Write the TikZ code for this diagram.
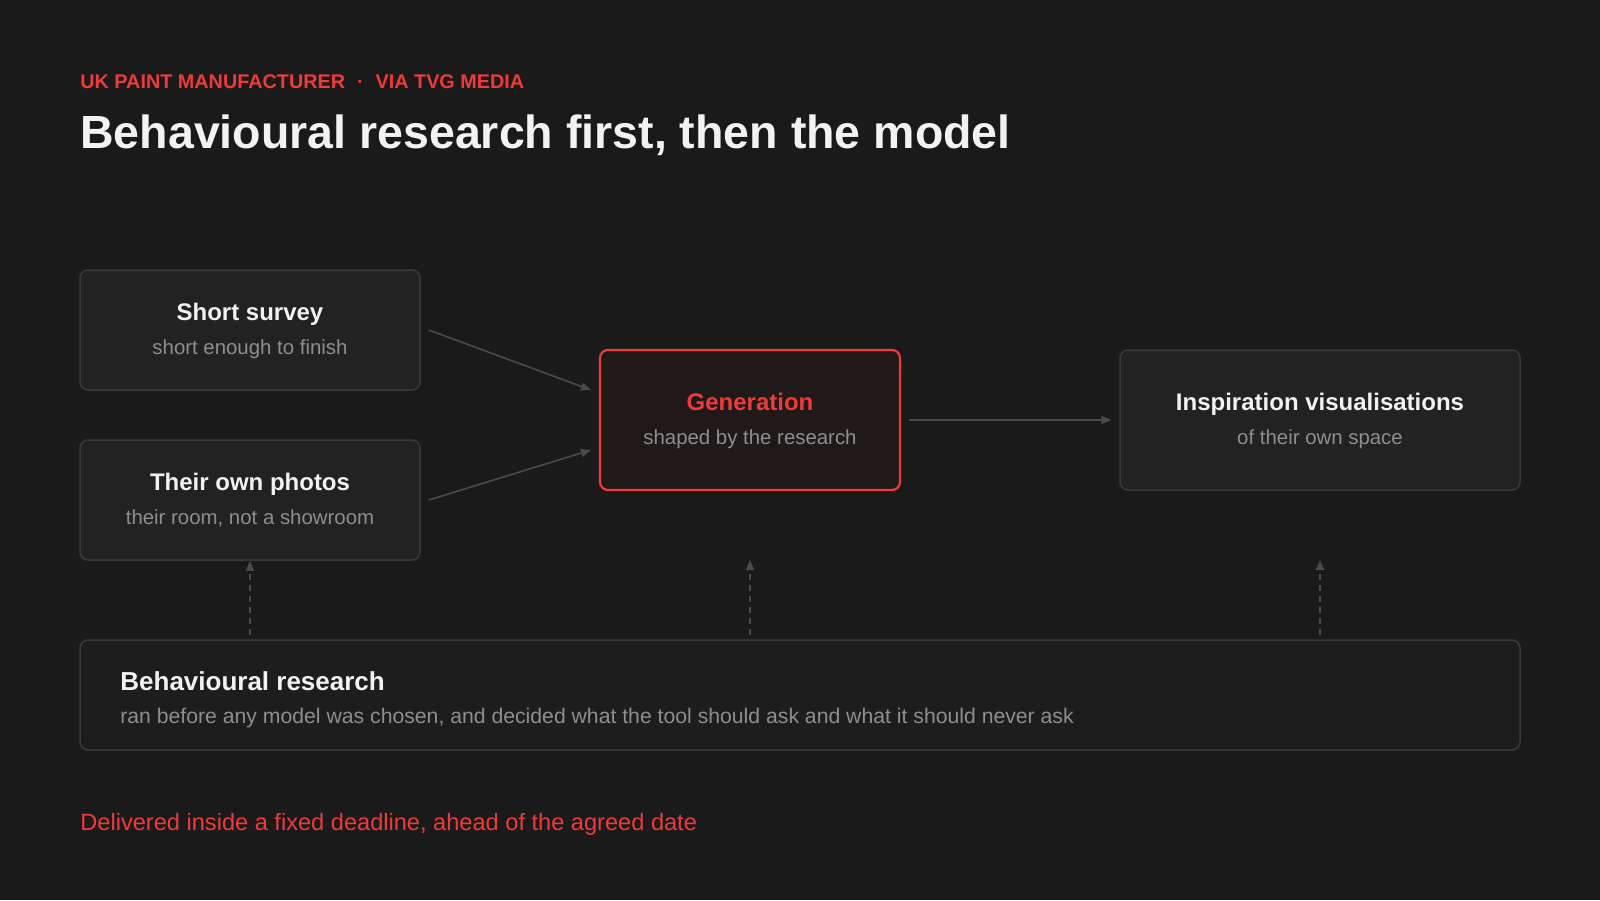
\documentclass[tikz,border=0pt]{standalone}
\usepackage{fontspec}
\setmainfont{Liberation Sans}
\usetikzlibrary{arrows.meta}
\definecolor{bg}{HTML}{1A1A1A}
\definecolor{boxfill}{HTML}{222222}
\definecolor{boxline}{HTML}{3A3A3A}
\definecolor{resfill}{HTML}{1D1D1D}
\definecolor{genfill}{HTML}{1F1919}
\definecolor{accent}{HTML}{F03A3A}
\definecolor{whitetxt}{HTML}{F2F2F2}
\definecolor{greytxt}{HTML}{8E8E8E}
\definecolor{conncol}{HTML}{4A4A4A}
\tikzset{
  box/.style={draw=boxline, fill=boxfill, line width=0.75pt, rounded corners=4pt, inner sep=0pt},
  genbox/.style={draw=accent, fill=genfill, line width=1.1pt, rounded corners=4pt, inner sep=0pt},
  resbox/.style={draw=boxline, fill=resfill, line width=0.75pt, rounded corners=4pt, inner sep=0pt},
  btitle/.style={font=\fontsize{12}{14}\selectfont\bfseries, text=whitetxt, inner sep=0pt},
  bsub/.style={font=\fontsize{10.2}{12}\selectfont, text=greytxt, inner sep=0pt},
  conn/.style={draw=conncol, line width=0.8pt, -{Triangle[length=5pt,width=4pt]}},
  dashconn/.style={draw=conncol, line width=0.8pt, dash pattern=on 3pt off 2.5pt, -{Triangle[length=5pt,width=4pt]}}
}
\begin{document}
\begin{tikzpicture}[x=0.5pt,y=-0.5pt]
\path[fill=bg] (0,0) rectangle (1600,900);
\useasboundingbox (0,0) rectangle (1600,900);

% header
\node[anchor=base west, inner sep=0pt, text=accent, font=\fontsize{9.9}{12}\selectfont\bfseries] (kicker) at (80,88) {UK PAINT MANUFACTURER\hspace{6pt}·\hspace{6pt}VIA TVG MEDIA};
\node[anchor=base west, inner sep=0pt, text=whitetxt, font=\fontsize{23.25}{28}\selectfont\bfseries] (title) at (80,148) {Behavioural research first, then the model};

% boxes
\node[box, minimum width=170pt, minimum height=60pt] (survey) at (250,330) {};
\node[btitle, anchor=base] (surveyT) at (250,320) {Short survey};
\node[bsub, anchor=base] (surveyS) at (250,354) {short enough to finish};

\node[box, minimum width=170pt, minimum height=60pt] (photos) at (250,500) {};
\node[btitle, anchor=base] (photosT) at (250,490) {Their own photos};
\node[bsub, anchor=base] (photosS) at (250,524) {their room, not a showroom};

\node[genbox, minimum width=150pt, minimum height=70pt] (gen) at (750,420) {};
\node[btitle, anchor=base, text=accent] (genT) at (750,410) {Generation};
\node[bsub, anchor=base] (genS) at (750,444) {shaped by the research};

\node[box, minimum width=200pt, minimum height=70pt] (insp) at (1320,420) {};
\node[btitle, anchor=base] (inspT) at (1320,410) {Inspiration visualisations};
\node[bsub, anchor=base] (inspS) at (1320,444) {of their own space};

\node[resbox, minimum width=720pt, minimum height=55pt] (res) at (800,695) {};
\node[btitle, anchor=base west, font=\fontsize{13}{15}\selectfont\bfseries] (resT) at (120,690) {Behavioural research};
\node[bsub, anchor=base west, font=\fontsize{10.6}{12}\selectfont] (resS) at (120,723) {ran before any model was chosen, and decided what the tool should ask and what it should never ask};

\node[anchor=base west, inner sep=0pt, text=accent, font=\fontsize{11.8}{14}\selectfont] (foot) at (80,830) {Delivered inside a fixed deadline, ahead of the agreed date};

% connectors
\draw[conn] ([xshift=4pt]survey.east) -- ([xshift=-4pt,yshift=15pt]gen.west);
\draw[conn] ([xshift=4pt]photos.east) -- ([xshift=-4pt,yshift=-15pt]gen.west);
\draw[conn] ([xshift=4pt]gen.east) -- ([xshift=-4pt]insp.west);

\coordinate (genIn) at (750,560);
\coordinate (inspIn) at (1320,560);
\draw[dashconn] ([yshift=2pt]res.north -| photos.south) -- (photos.south);
\draw[dashconn] ([yshift=2pt]res.north -| genIn) -- (genIn);
\draw[dashconn] ([yshift=2pt]res.north -| inspIn) -- (inspIn);
\end{tikzpicture}
\end{document}
